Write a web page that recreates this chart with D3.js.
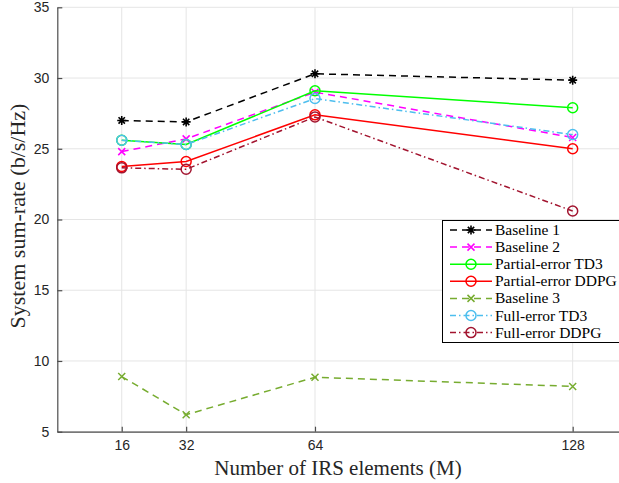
<!DOCTYPE html>
<html><head><meta charset="utf-8">
<script src="https://cdn.jsdelivr.net/npm/d3@7"></script>
<style>body{margin:0;background:#fff}svg{display:block}</style>
</head><body><div id="c"></div>
<script>
const xValues = [16, 32, 64, 128];
const seriesNames = ["Baseline 1","Baseline 2","Partial-error TD3","Partial-error DDPG","Baseline 3","Full-error TD3","Full-error DDPG"];
const baseline1 = [27.0, 26.9, 30.3, 29.85];
const baseline2 = [24.8, 25.7, 29.0, 25.8];
const partialTD3 = [25.6, 25.3, 29.1, 27.9];
const partialDDPG = [23.75, 24.1, 27.4, 25.0];
const baseline3 = [8.9, 6.2, 8.85, 8.2];
const fullTD3 = [25.6, 25.3, 28.55, 26.0];
const fullDDPG = [23.65, 23.55, 27.25, 20.6];
const yTicks = [5, 10, 15, 20, 25, 30, 35];
const xTicks = [16, 32, 64, 128];

const W = 619, H = 483;
const svg = d3.select("#c").append("svg").attr("width", W).attr("height", H);
const x = d3.scaleLinear().domain([0, 140]).range([57.3, 621]);
const y = d3.scaleLinear().domain([5, 35]).range([431.7, 7.3]);

// grid
const g = svg.append("g");
g.selectAll(".gy").data(yTicks).join("line")
  .attr("x1", x(0)).attr("x2", x(140)).attr("y1", d => y(d)).attr("y2", d => y(d))
  .attr("stroke", "#e5e5e5").attr("stroke-width", 1);
g.selectAll(".gx").data(xTicks).join("line")
  .attr("y1", y(5)).attr("y2", y(35)).attr("x1", d => x(d)).attr("x2", d => x(d))
  .attr("stroke", "#e5e5e5").attr("stroke-width", 1);

// axes
const axL = d3.axisLeft(y).tickValues(yTicks).tickSizeInner(-5).tickSizeOuter(0).tickPadding(8);
const axB = d3.axisBottom(x).tickValues(xTicks).tickSizeInner(-5).tickSizeOuter(0).tickPadding(8);
const gl = svg.append("g").attr("transform", `translate(${x(0)},0)`).call(axL);
const gb = svg.append("g").attr("transform", `translate(0,${y(5)})`).call(axB);
[gl, gb].forEach(a => {
  a.select(".domain").attr("stroke", "#4d4d4d").attr("stroke-width", 1.2);
  a.selectAll(".tick line").attr("stroke", "#4d4d4d").attr("stroke-width", 1.2);
  a.selectAll("text").attr("font-family", "Liberation Sans, Arial, sans-serif").attr("font-size", 14).attr("fill", "#262626");
});

// labels
svg.append("text").attr("x", 338).attr("y", 475).attr("text-anchor", "middle")
  .attr("font-family", "Liberation Serif, Times New Roman, serif").attr("font-size", 21)
  .attr("fill", "#262626").text("Number of IRS elements (M)");
svg.append("text").attr("transform", "translate(25,216) rotate(-90)").attr("text-anchor", "middle")
  .attr("font-family", "Liberation Serif, Times New Roman, serif").attr("font-size", 22)
  .attr("fill", "#262626").text("System sum-rate (b/s/Hz)");

const series = [
  {name: seriesNames[0], v: baseline1, c: "#000000", dash: "7,5", m: "star"},
  {name: seriesNames[1], v: baseline2, c: "#ff00ff", dash: "7,5", m: "x"},
  {name: seriesNames[2], v: partialTD3, c: "#00ff00", dash: null, m: "o"},
  {name: seriesNames[3], v: partialDDPG, c: "#ff0000", dash: null, m: "o"},
  {name: seriesNames[4], v: baseline3, c: "#77ac30", dash: "7,5", m: "x"},
  {name: seriesNames[5], v: fullTD3, c: "#4dbeee", dash: "6,3,1.5,3", m: "o"},
  {name: seriesNames[6], v: fullDDPG, c: "#a2142f", dash: "6,3,1.5,3", m: "o"}
];

function marker(sel, type, cx, cy, c) {
  if (type === "o") {
    sel.append("circle").attr("cx", cx).attr("cy", cy).attr("r", 5)
      .attr("fill", "none").attr("stroke", c).attr("stroke-width", 1.5);
  } else if (type === "x") {
    const s = 3.5;
    sel.append("path").attr("d", `M${cx-s},${cy-s}L${cx+s},${cy+s}M${cx-s},${cy+s}L${cx+s},${cy-s}`)
      .attr("stroke", c).attr("stroke-width", 1.5).attr("fill", "none");
  } else {
    const s = 4.5, d = s * 0.707;
    sel.append("path").attr("d",
      `M${cx-s},${cy}L${cx+s},${cy}M${cx},${cy-s}L${cx},${cy+s}M${cx-d},${cy-d}L${cx+d},${cy+d}M${cx-d},${cy+d}L${cx+d},${cy-d}`)
      .attr("stroke", c).attr("stroke-width", 1.6).attr("fill", "none");
  }
}

const line = d3.line().x((d, i) => x(xValues[i])).y(d => y(d));
series.forEach(s => {
  const gs = svg.append("g");
  gs.append("path").datum(s.v).attr("d", line).attr("fill", "none")
    .attr("stroke", s.c).attr("stroke-width", 1.5)
    .attr("stroke-dasharray", s.dash);
  s.v.forEach((v, i) => marker(gs, s.m, x(xValues[i]), y(v), s.c));
});

// legend
const lg = svg.append("g");
lg.append("rect").attr("x", 442.5).attr("y", 220.5).attr("width", 180).attr("height", 122)
  .attr("fill", "#fff").attr("stroke", "#000").attr("stroke-width", 1);
series.forEach((s, i) => {
  const yy = 230 + i * 17.1;
  lg.append("line").attr("x1", 450).attr("x2", 492).attr("y1", yy).attr("y2", yy)
    .attr("stroke", s.c).attr("stroke-width", 1.5).attr("stroke-dasharray", s.dash);
  marker(lg, s.m, 471, yy, s.c);
  lg.append("text").attr("x", 495).attr("y", yy + 5).attr("font-family", "Liberation Serif, Times New Roman, serif")
    .attr("font-size", 15.5).attr("fill", "#000").text(s.name);
});
</script></body></html>
